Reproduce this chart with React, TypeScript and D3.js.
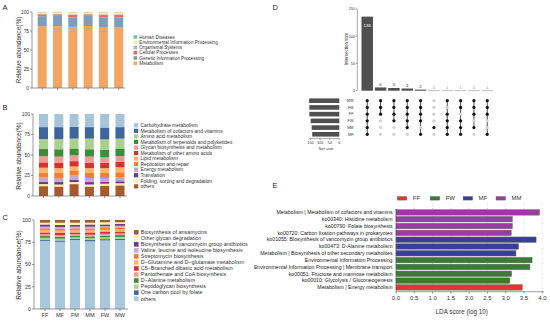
import * as d3 from 'd3';

const FONT = '"Liberation Sans", Arial, Helvetica, sans-serif';
const AXIS = '#555555';
const INK = '#333333';

const samples = ['FF', 'MF', 'FM', 'MM', 'FW', 'MW'];

// A - KEGG level 1, bottom -> top
const levelOneNames = ['Metabolism', 'Genetic Information Processing', 'Cellular Processes', 'Organismal Systems', 'Environmental Information Processing', 'Human Diseases'];
const levelOneColors = ['#F3A563', '#7E9DBA', '#E96B6B', '#B9A8D2', '#F3F29E', '#6FC3A6'];
const levelOneValues = [
  [81.5, 81.5, 80.5, 81.5, 80, 79.5],
  [13, 13.5, 12.5, 13.5, 13, 13.5],
  [2.5, 2, 3.5, 2, 3.5, 3.5],
  [0.5, 0.5, 0.5, 0.5, 0.5, 0.5],
  [2, 2, 2.5, 2, 2.5, 2.5],
  [0.5, 0.5, 0.5, 0.5, 0.5, 0.5],
];

// B - KEGG level 2, bottom -> top
const levelTwoNames = ['others', 'Folding, sorting and degradation', 'Translation', 'Energy metabolism', 'Replication and repair', 'Lipid metabolism', 'Metabolism of other amino acids', 'Glycan biosynthesis and metabolism', 'Metabolism of terpenoids and polyketides', 'Amino acid metabolism', 'Metabolism of cofactors and vitamins', 'Carbohydrate metabolism'];
const levelTwoColors = ['#A65A2E', '#FBF49C', '#6A3D8C', '#C3A7D2', '#F27F2D', '#F8B56F', '#D7312F', '#F39A98', '#3D8B3B', '#AAD18E', '#3E669C', '#A7C4D8'];
const levelTwoValues = [
  [12, 11.5, 14.5, 11.5, 12.5, 13],
  [2.5, 2.5, 2.5, 2.5, 2.5, 2.5],
  [3, 3, 3, 3, 2.5, 2.5],
  [5, 5, 5, 5, 4.5, 5],
  [6, 6, 5.5, 6, 6, 6],
  [6, 6, 5.5, 6, 6, 6],
  [6.5, 6.5, 6.5, 6.5, 6.5, 6.5],
  [7.5, 7.5, 7, 7.5, 7, 7],
  [9, 9, 8.5, 9, 9, 9.5],
  [12, 12.5, 12, 13, 12.5, 12],
  [14.5, 14.5, 14.5, 14, 14.5, 14],
  [16, 16, 15.5, 16, 16.5, 16],
];

// C - KEGG level 3, bottom -> top
const levelThreeNames = ['others', 'One carbon pool by folate', 'Peptidoglycan biosynthesis', 'D\u2212Alanine metabolism', 'Pantothenate and CoA biosynthesis', 'C5\u2212Branched dibasic acid metabolism', 'D\u2212Glutamine and D\u2212glutamate metabolism', 'Streptomycin biosynthesis', 'Valine, leucine and isoleucine biosynthesis', 'Biosynthesis of vancomycin group antibiotics', 'Other glycan degradation', 'Biosynthesis of ansamycins'];
const levelThreeColors = ['#A8C8DB', '#3F6AA0', '#ABD38E', '#3C8C3B', '#F39C9A', '#D8302F', '#F9B570', '#F17D2C', '#C7AAD5', '#6A3D8F', '#FBF49C', '#A65A2E'];
const levelThreeValues = [
  [76.5, 75.5, 77.5, 76, 77, 77.5],
  [1.5, 1.5, 1.5, 1.5, 1.5, 1.5],
  [2, 2, 1.5, 2, 2, 2],
  [2, 2, 1.5, 2, 2, 2],
  [2, 2, 2, 2, 2, 2],
  [2, 2.5, 2, 2.5, 2, 2],
  [2.5, 2.5, 2.5, 2.5, 2.5, 2.5],
  [2, 2, 2, 2, 2, 2],
  [2, 2, 2, 2, 2, 2],
  [2.5, 2.5, 2, 2.5, 2, 2],
  [2, 2.5, 2.5, 2, 2.5, 2],
  [3, 3, 3, 3, 2.5, 2.5],
];
const abundanceTicks = [0, 25, 50, 75, 100];

// D - UpSet
const setNames = ['MW', 'FM', 'FF', 'FW', 'MM', 'MF'];
const setSizes = [157, 156, 156, 149, 144, 141];
const intersectionSizes = [136, 6, 5, 4, 2, 1, 1, 1, 1, 1];
const intersectionMembers = [
  ['MW', 'FM', 'FF', 'FW', 'MM', 'MF'],
  ['MW', 'FM', 'FF'],
  ['MW', 'FM', 'FF', 'FW'],
  ['MW', 'FM', 'FF', 'FW', 'MM'],
  ['MW', 'FM', 'FF', 'FW', 'MF'],
  ['MM'],
  ['MW', 'FF', 'FW', 'MM', 'MF'],
  ['MW', 'FM', 'FW', 'MM', 'MF'],
  ['MW', 'FM', 'FF', 'MM'],
  ['MW', 'FM', 'FF', 'MF'],
];
const intersectionTicks = [0, 50, 100, 150];
const setSizeTicks = [150, 100, 50, 0];

// E - LEfSe
const lefseGroups = ['FF', 'FW', 'MF', 'MM'];
const lefseColors = ['#E8352B', '#3A7B35', '#3A3E9B', '#9B3C9E'];
const lefseLabels = [
  'Metabolism | Metabolism of cofactors and vitamins',
  'ko00340: Histidine metabolism',
  'ko00790: Folate biosynthesis',
  'ko00720: Carbon fixation pathways in prokaryotes',
  'ko01055: Biosynthesis of vancomycin group antibiotics',
  'ko00473: D-Alanine metabolism',
  'Metabolism | Biosynthesis of other secondary metabolites',
  'Environmental Information Processing',
  'Environmental Information Processing | Membrane transport',
  'ko00051: Fructose and mannose metabolism',
  'ko00010: Glycolysis / Gluconeogenesis',
  'Metabolism | Energy metabolism',
];
const lefseScores = [3.92, 3.18, 3.18, 3.15, 3.83, 3.35, 3.28, 3.72, 3.66, 3.16, 3.11, 3.45];
const lefseClass = ['MM', 'MM', 'MM', 'MM', 'MF', 'MF', 'MF', 'FW', 'FW', 'FW', 'FW', 'FF'];
const ldaTicks = [0, 0.5, 1, 1.5, 2, 2.5, 3, 3.5, 4];

type StackCfg = {
  names: string[]; colors: string[]; values: number[][];
  axisX: number; axisEnd: number; yTop: number; yBottom: number;
  band: [number, number]; pad: number;
  tickFont: number; titleFont: number; titleY: number;
  legendX: number; legendY: number; legendStep: number; legendBox: number; legendFont: number;
  xLabels: boolean;
};

const StackPanel = ({ c }: { c: StackCfg }) => {
  const y = d3.scaleLinear().domain([0, 100]).range([c.yBottom, c.yTop]);
  const x = d3.scaleBand<string>().domain(samples).range(c.band).paddingInner(c.pad).paddingOuter(0);
  const rows = samples.map((s, i) => {
    const r: any = { sample: s };
    c.names.forEach((n, k) => { r[n] = c.values[k][i]; });
    return r;
  });
  const series = d3.stack<any>().keys(c.names)(rows);
  const legendOrder = c.names.map((n, k) => k).reverse();
  return (
    <g>
      {series.map((s, k) => s.map((d, i) => (
        <rect key={`${k}-${i}`} x={x(samples[i])} y={y(d[1])} width={x.bandwidth()}
          height={y(d[0]) - y(d[1])} fill={c.colors[k]} />
      )))}
      <line x1={c.axisX} x2={c.axisX} y1={c.yTop} y2={c.yBottom} stroke={AXIS} strokeWidth={0.6} />
      <line x1={c.axisX} x2={c.axisEnd} y1={c.yBottom} y2={c.yBottom} stroke={AXIS} strokeWidth={0.6} />
      {abundanceTicks.map(t => (
        <g key={t}>
          <line x1={c.axisX - 2} x2={c.axisX} y1={y(t)} y2={y(t)} stroke={AXIS} strokeWidth={0.6} />
          <text x={c.axisX - 3} y={y(t)} dy="0.35em" textAnchor="end" fontSize={c.tickFont} fill={INK}>{t}</text>
        </g>
      ))}
      {samples.map(s => (
        <g key={s}>
          <line x1={x(s)! + x.bandwidth() / 2} x2={x(s)! + x.bandwidth() / 2} y1={c.yBottom} y2={c.yBottom + 2} stroke={AXIS} strokeWidth={0.6} />
          {c.xLabels && (
            <text x={x(s)! + x.bandwidth() / 2} y={c.yBottom + 8} textAnchor="middle" fontSize={5.6} fill={INK}>{s}</text>
          )}
        </g>
      ))}
      <text transform={`translate(19,${c.titleY}) rotate(-90)`} textAnchor="middle" dy="0.35em" fontSize={c.titleFont} fill={INK}>Relative abundance(%)</text>
      {legendOrder.map((k, j) => {
        const cy = c.legendY + j * c.legendStep;
        return (
          <g key={k}>
            <rect x={c.legendX} y={cy - c.legendBox / 2} width={c.legendBox} height={c.legendBox} fill={c.colors[k]} />
            <text x={c.legendX + c.legendBox + 2.2} y={cy} dy="0.35em" fontSize={c.legendFont} fill={INK}>{c.names[k]}</text>
          </g>
        );
      })}
    </g>
  );
};

const panelA: StackCfg = {
  names: levelOneNames, colors: levelOneColors, values: levelOneValues,
  axisX: 32, axisEnd: 125, yTop: 12, yBottom: 88, band: [37.7, 123.2], pad: 0.41,
  tickFont: 4.8, titleFont: 6.4, titleY: 50,
  legendX: 133.5, legendY: 37, legendStep: 5.25, legendBox: 3.6, legendFont: 4.65, xLabels: false,
};
const panelB: StackCfg = {
  names: levelTwoNames, colors: levelTwoColors, values: levelTwoValues,
  axisX: 33, axisEnd: 127, yTop: 114, yBottom: 196, band: [39, 124.5], pad: 0.41,
  tickFont: 4.9, titleFont: 6.5, titleY: 156,
  legendX: 134, legendY: 125.3, legendStep: 5.55, legendBox: 4.2, legendFont: 5, xLabels: false,
};
const panelC: StackCfg = {
  names: levelThreeNames, colors: levelThreeColors, values: levelThreeValues,
  axisX: 34, axisEnd: 128, yTop: 220, yBottom: 309, band: [40, 125], pad: 0.333,
  tickFont: 5.3, titleFont: 6.7, titleY: 265,
  legendX: 134, legendY: 232.3, legendStep: 6.03, legendBox: 4.6, legendFont: 5.4, xLabels: true,
};

const UpSetPanel = () => {
  const yI = d3.scaleLinear().domain([0, 150]).range([90.7, 9]);
  const xI = d3.scaleBand<number>().domain(d3.range(intersectionSizes.length)).range([361.5, 493]).paddingInner(0.14);
  const yRow = d3.scalePoint<string>().domain(setNames).range([100.7, 134.3]);
  const xSet = d3.scaleLinear().domain([0, 150]).range([339.3, 310.5]);
  const bw = xI.bandwidth();
  return (
    <g>
      <line x1={357.3} x2={357.3} y1={9} y2={90.7} stroke={AXIS} strokeWidth={0.5} />
      {intersectionTicks.map(t => (
        <g key={t}>
          <line x1={355.8} x2={357.3} y1={yI(t)} y2={yI(t)} stroke={AXIS} strokeWidth={0.5} />
          <text x={355} y={yI(t)} dy="0.35em" textAnchor="end" fontSize={3.8} fill={INK}>{t}</text>
        </g>
      ))}
      <text transform={`translate(347.8,49) rotate(-90)`} textAnchor="middle" fontSize={4.5} fill={INK}>Intersection size</text>
      {intersectionSizes.map((v, i) => {
        const dark = v > 1;
        const top = yI(v);
        return (
          <g key={i}>
            <rect x={xI(i)} y={top} width={bw} height={Math.max(yI(0) - top, 1)} fill={dark ? '#505050' : '#BDBDBD'} />
            {i === 0
              ? <text x={xI(i)! + bw / 2} y={top + 10} textAnchor="middle" fontSize={4.4} fill="#fff">{v}</text>
              : <text x={xI(i)! + bw / 2} y={yI(v) - 1.6} textAnchor="middle" fontSize={4.4} fill={dark ? INK : '#999'}>{v}</text>}
          </g>
        );
      })}
      {setNames.map((s, r) => (
        <g key={s}>
          <rect x={xSet(setSizes[r])} y={yRow(s)! - 2.3} width={xSet(0) - xSet(setSizes[r])} height={4.6} fill="#505050" />
          <text x={353.5} y={yRow(s)} dy="0.35em" textAnchor="end" fontSize={3.8} fill={INK}>{s}</text>
        </g>
      ))}
      <line x1={xSet(150) - 1.5} x2={xSet(0)} y1={138.6} y2={138.6} stroke={AXIS} strokeWidth={0.5} />
      {setSizeTicks.map(t => (
        <g key={t}>
          <line x1={xSet(t)} x2={xSet(t)} y1={138.6} y2={140} stroke={AXIS} strokeWidth={0.5} />
          <text x={xSet(t)} y={142.5} dy="0.35em" textAnchor="middle" fontSize={3.8} fill={INK}>{t}</text>
        </g>
      ))}
      <text x={326} y={149.5} textAnchor="middle" fontSize={4.2} fill={INK}>Set size</text>
      {intersectionMembers.map((m, i) => {
        const cx = xI(i)! + bw / 2;
        const ys = m.map(s => yRow(s)!);
        return (
          <g key={i}>
            {m.length > 1 && <line x1={cx} x2={cx} y1={d3.min(ys)} y2={d3.max(ys)} stroke="#222" strokeWidth={0.8} />}
            {setNames.map(s => (
              <circle key={s} cx={cx} cy={yRow(s)} r={1.6} fill={m.includes(s) ? '#111' : '#D0D0D0'} />
            ))}
          </g>
        );
      })}
    </g>
  );
};

const LefsePanel = () => {
  const x = d3.scaleLinear().domain([0, 4]).range([396, 542.3]);
  const y = d3.scaleBand<string>().domain(lefseLabels).range([209, 290.8]).paddingInner(0.2).paddingOuter(0.1);
  const color = d3.scaleOrdinal<string, string>().domain(lefseGroups).range(lefseColors);
  const baseY = 291.7;
  return (
    <g>
      {ldaTicks.filter(t => t > 0).map(t => (
        <line key={t} x1={x(t)} x2={x(t)} y1={203} y2={baseY} stroke="#aaa" strokeWidth={0.4} strokeDasharray="1,1.5" />
      ))}
      {lefseLabels.map((l, i) => (
        <g key={l}>
          <rect x={x(0)} y={y(l)} width={x(lefseScores[i]) - x(0)} height={y.bandwidth()}
            fill={color(lefseClass[i])} stroke="#666" strokeWidth={0.5} />
          <text x={392.5} y={y(l)! + y.bandwidth() / 2} dy="0.35em" textAnchor="end" fontSize={5.2} fill="#222">{l}</text>
        </g>
      ))}
      <line x1={x(0)} x2={x(0)} y1={209} y2={baseY} stroke={AXIS} strokeWidth={0.5} />
      <line x1={x(0)} x2={x(4) + 1.5} y1={baseY} y2={baseY} stroke={AXIS} strokeWidth={0.6} />
      {ldaTicks.map(t => (
        <g key={t}>
          <line x1={x(t)} x2={x(t)} y1={baseY} y2={baseY + 1.8} stroke={AXIS} strokeWidth={0.6} />
          <text x={x(t)} y={297.5} dy="0.35em" textAnchor="middle" fontSize={6} fill={INK}>{t.toFixed(1)}</text>
        </g>
      ))}
      <text x={461.7} y={313.5} textAnchor="middle" fontSize={6.3} fill={INK}>LDA score (log 10)</text>
      {lefseGroups.map((g, i) => {
        const lx = 397.3 + i * 32.9;
        return (
          <g key={g}>
            <rect x={lx} y={196.5} width={9.5} height={3.6} fill={color(g)} stroke="#666" strokeWidth={0.4} />
            <text x={lx + 15.5} y={198.3} dy="0.35em" fontSize={6} fill={INK}>{g}</text>
          </g>
        );
      })}
    </g>
  );
};

export default function App() {
  return (
    <svg width={550} height={322} style={{ position: 'absolute', left: 0, top: 0, background: '#fff' }} fontFamily={FONT}>
      <rect width={550} height={322} fill="#fff" />
      <text x={2.5} y={9.5} fontSize={7.5} fill="#222">A</text>
      <text x={2.5} y={109.5} fontSize={7.5} fill="#222">B</text>
      <text x={2.5} y={219.5} fontSize={7.5} fill="#222">C</text>
      <text x={272.5} y={9.5} fontSize={7.5} fill="#222">D</text>
      <text x={272.5} y={187.5} fontSize={7.5} fill="#222">E</text>
      <StackPanel c={panelA} />
      <StackPanel c={panelB} />
      <StackPanel c={panelC} />
      <UpSetPanel />
      <LefsePanel />
    </svg>
  );
}
